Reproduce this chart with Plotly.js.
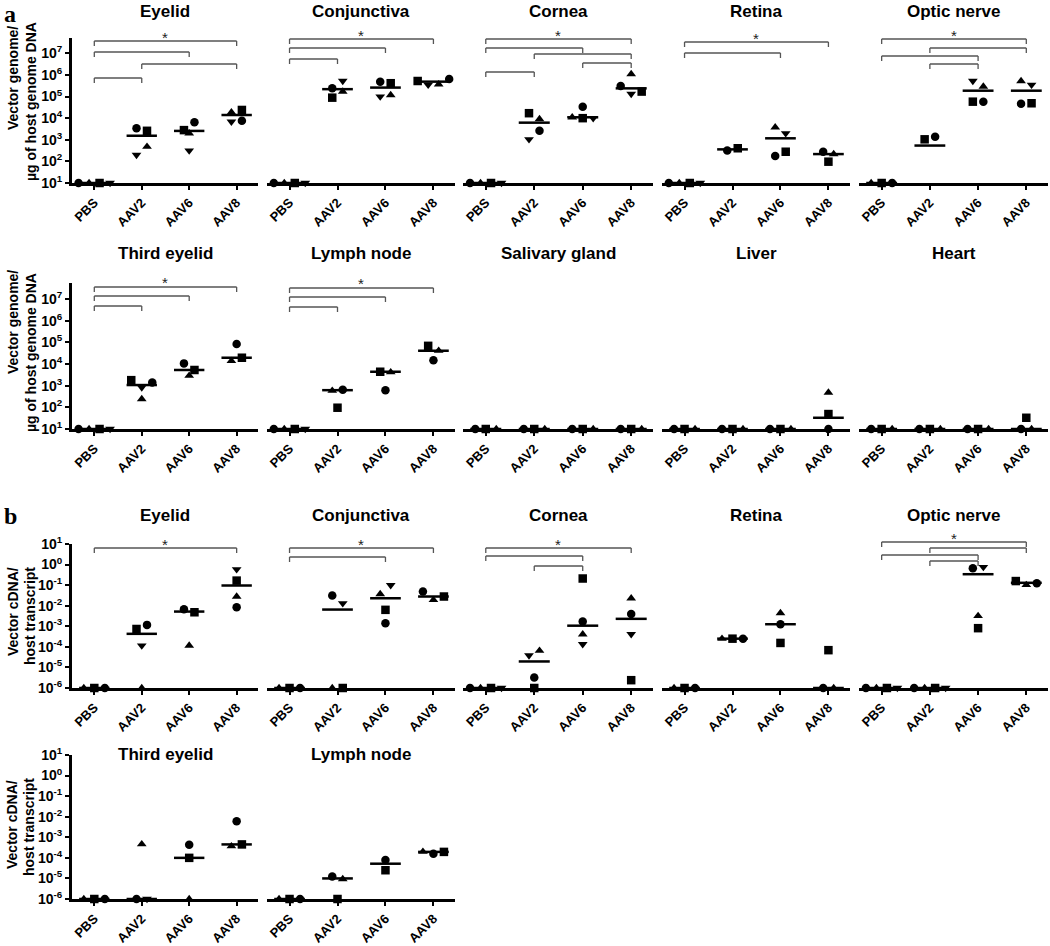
<!DOCTYPE html>
<html>
<head>
<meta charset="utf-8">
<script src="https://cdn.plot.ly/plotly-3.0.1.min.js"></script>
<style>html,body{margin:0;padding:0;background:#fff}#chart{width:1050px;height:946px}</style>
</head>
<body>
<div id="chart"></div>
<script>
// ---------------- DATA ----------------
const GROUPS = ['PBS', 'AAV2', 'AAV6', 'AAV8'];
// symbol codes: o circle, s square, u triangle-up, d triangle-down (one per animal)

// a) vector genome / ug host genome DNA
const A_EYELID_PTS = [
  [['o',10],['u',10],['s',10],['d',10]],
  [['o',3400],['s',2600],['d',200],['u',480]],
  [['s',2800],['u',2000],['o',6500],['d',315]],
  [['u',18600],['s',24000],['d',6900],['o',7600]]
];
const A_EYELID_MED = [10, 1540, 2570, 14000];
const A_EYELID_SIG = [[0,3],[0,2],[1,3],[0,1]];

const A_CONJ_PTS = [
  [['o',10],['u',10],['s',10],['d',10]],
  [['o',240000],['d',525000],['s',89000],['u',170000]],
  [['o',490000],['s',415000],['d',100000],['u',118000]],
  [['s',525000],['d',350000],['u',370000],['o',650000]]
];
const A_CONJ_MED = [10, 220000, 260000, 490000];
const A_CONJ_SIG = [[0,3],[0,2],[0,1]];

const A_CORNEA_PTS = [
  [['o',10],['u',10],['s',10],['d',10]],
  [['s',17000],['u',9100],['d',1050],['o',2600]],
  [['o',34000],['u',11000],['s',10000],['d',10000]],
  [['u',1100000],['o',310000],['d',132000],['s',170000]]
];
const A_CORNEA_MED = [10, 6200, 11000, 240000];
const A_CORNEA_SIG = [[0,3],[0,2],[1,3],[2,3],[0,1]];

const A_RETINA_PTS = [
  [['o',10],['u',10],['s',10],['d',10]],
  [['o',316],['s',405]],
  [['u',3800],['d',2000],['o',178],['s',280]],
  [['o',280],['u',218],['s',97]]
];
const A_RETINA_MED = [10, 360, 1170, 218];
const A_RETINA_SIG = [[0,3],[0,2]];

const A_OPTIC_PTS = [
  [['u',10],['s',10],['o',10]],
  [['s',1050],['o',1380]],
  [['d',525000],['u',290000],['s',58000],['o',58000]],
  [['u',525000],['d',350000],['o',46000],['s',49000]]
];
const A_OPTIC_MED = [10, 540, 187000, 187000];
const A_OPTIC_SIG = [[0,3],[1,3],[0,2],[1,2]];

const A_THIRD_PTS = [
  [['o',10],['u',10],['s',10],['d',10]],
  [['s',1800],['d',830],['o',1400],['u',240]],
  [['o',10700],['s',5300],['u',2900]],
  [['o',83000],['u',13800],['s',19500]]
];
const A_THIRD_MED = [10, 1070, 5300, 19500];
const A_THIRD_SIG = [[0,3],[0,2],[0,1]];

const A_LYMPH_PTS = [
  [['o',10],['u',10],['s',10],['d',10]],
  [['u',590],['o',650],['s',96]],
  [['s',4400],['u',4200],['o',610]],
  [['s',69000],['u',41000],['o',15000]]
];
const A_LYMPH_MED = [10, 620, 4400, 41000];
const A_LYMPH_SIG = [[0,3],[0,2],[0,1]];

const A_SALIVARY_PTS = [
  [['o',10],['s',10],['u',10]],
  [['o',10],['s',10],['u',10]],
  [['o',10],['s',10],['u',10]],
  [['o',10],['s',10],['u',10]]
];
const A_SALIVARY_MED = [10, 10, 10, 10];

const A_LIVER_PTS = [
  [['o',10],['s',10],['u',10]],
  [['o',10],['s',10],['u',10]],
  [['o',10],['s',10],['u',10]],
  [['o',10],['s',49],['u',480]]
];
const A_LIVER_MED = [10, 10, 10, 33];

const A_HEART_PTS = [
  [['o',10],['s',10],['u',10]],
  [['o',10],['s',10],['u',10]],
  [['o',10],['s',10],['u',10]],
  [['o',10],['s',33],['u',10]]
];
const A_HEART_MED = [10, 10, 10, 10];

// b) vector cDNA / host transcript
const B_EYELID_PTS = [
  [['u',1e-6],['s',1e-6],['o',1e-6]],
  [['s',7.4e-4],['o',1.17e-3],['d',1.15e-4],['u',1e-6]],
  [['o',6.8e-3],['s',4.8e-3],['u',1.15e-4]],
  [['d',0.59],['s',0.166],['u',0.028],['o',0.0085]]
];
const B_EYELID_MED = [1e-6, 4.3e-4, 5.2e-3, 0.096];
const B_EYELID_SIG = [[0,3]];

const B_CONJ_PTS = [
  [['u',1e-6],['s',1e-6],['o',1e-6]],
  [['o',0.031],['d',0.013],['u',1e-6],['s',1e-6]],
  [['u',0.037],['d',0.10],['s',6.3e-3],['o',1.4e-3]],
  [['o',0.049],['u',0.019],['s',0.028]]
];
const B_CONJ_MED = [1e-6, 6.5e-3, 0.023, 0.028];
const B_CONJ_SIG = [[0,3],[0,2]];

const B_CORNEA_PTS = [
  [['o',1e-6],['u',1e-6],['s',1e-6],['d',1e-6]],
  [['d',3.8e-5],['u',6.5e-5],['o',3.2e-6],['s',1e-6]],
  [['s',0.21],['o',1.7e-3],['u',4.1e-4],['d',1.35e-4]],
  [['u',0.023],['o',4.0e-3],['d',4.1e-4],['s',2.4e-6]]
];
const B_CORNEA_MED = [1e-6, 1.95e-5, 1.07e-3, 2.3e-3];
const B_CORNEA_SIG = [[0,3],[0,2],[1,2]];

const B_RETINA_PTS = [
  [['u',1e-6],['s',1e-6],['o',1e-6]],
  [['u',2.5e-4],['s',2.5e-4],['o',2.5e-4]],
  [['u',4.4e-3],['o',1.26e-3],['s',1.55e-4]],
  [['o',1e-6],['s',6.9e-5],['u',1e-6]]
];
const B_RETINA_MED = [1e-6, 2.5e-4, 1.26e-3, 1e-6];

const B_OPTIC_PTS = [
  [['o',1e-6],['u',1e-6],['s',1e-6],['d',1e-6]],
  [['o',1e-6],['u',1e-6],['s',1e-6],['d',1e-6]],
  [['o',0.66],['d',0.76],['u',3.2e-3],['s',8.1e-4]],
  [['s',0.158],['u',0.102],['o',0.123]]
];
const B_OPTIC_MED = [1e-6, 1e-6, 0.34, 0.13];
const B_OPTIC_SIG = [[0,3],[1,3],[0,2],[1,2]];

const B_THIRD_PTS = [
  [['u',1e-6],['s',1e-6],['o',1e-6]],
  [['o',1e-6],['u',4.6e-4],['d',1e-6]],
  [['o',4.3e-4],['s',1.0e-4],['u',1e-6]],
  [['o',6.0e-3],['u',3.7e-4],['s',4.5e-4]]
];
const B_THIRD_MED = [1e-6, 1e-6, 1.0e-4, 4.5e-4];

const B_LYMPH_PTS = [
  [['u',1e-6],['s',1e-6],['o',1e-6]],
  [['o',1.23e-5],['u',9.3e-6],['s',1e-6]],
  [['s',2.5e-5],['o',7.8e-5]],
  [['u',2.0e-4],['o',1.6e-4],['s',1.95e-4]]
];
const B_LYMPH_MED = [1e-6, 1.0e-5, 5.2e-5, 1.95e-4];

const A_TICK_POWERS = [1, 2, 3, 4, 5, 6, 7];
const B_TICK_POWERS = [1, 0, -1, -2, -3, -4, -5, -6];
const A_YTITLE = ['Vector genome/', 'µg of host genome DNA'];
const B_YTITLE = ['Vector cDNA/', 'host transcript'];

// ---------------- LAYOUT CONFIG ----------------
const W = 1050, H = 946;
const COLS = [[72,258],[267,455],[463,653],[662,850],[859,1048]];
const ROWS = [
  {top:38,  bottom:183, range:[1, 7.71], powers:A_TICK_POWERS, titleY:11,  ytitle:A_YTITLE, yt:[[13,78],[31,102]]},
  {top:283, bottom:429, range:[1, 7.74], powers:A_TICK_POWERS, titleY:254, ytitle:A_YTITLE, yt:[[13,322],[31,353]]},
  {top:544, bottom:688, range:[-6, 1],   powers:B_TICK_POWERS, titleY:515, ytitle:B_YTITLE, yt:[[13,612],[30,616]]},
  {top:755, bottom:899, range:[-6, 1],   powers:B_TICK_POWERS, titleY:754, ytitle:B_YTITLE, yt:[[12,825],[29,827]]}
];
const XRANGE = [-0.47, 3.45];
const SYM = {o:'circle', s:'square', u:'triangle-up', d:'triangle-down'};
const SPREAD_PX = 10.5, ROW_PX = 9.5, MED_HALF = 0.32;

const PANELS = [
  {title:'Eyelid', pts:A_EYELID_PTS, med:A_EYELID_MED, sig:A_EYELID_SIG, row:0, col:0, by:[41,52,64,78]},
  {title:'Conjunctiva', pts:A_CONJ_PTS, med:A_CONJ_MED, sig:A_CONJ_SIG, row:0, col:1, by:[39,48,59]},
  {title:'Cornea', pts:A_CORNEA_PTS, med:A_CORNEA_MED, sig:A_CORNEA_SIG, row:0, col:2, by:[39,48,54,63,72]},
  {title:'Retina', pts:A_RETINA_PTS, med:A_RETINA_MED, sig:A_RETINA_SIG, row:0, col:3, by:[42,53]},
  {title:'Optic nerve', pts:A_OPTIC_PTS, med:A_OPTIC_MED, sig:A_OPTIC_SIG, row:0, col:4, by:[39,48,56,64]},
  {title:'Third eyelid', pts:A_THIRD_PTS, med:A_THIRD_MED, sig:A_THIRD_SIG, row:1, col:0, by:[287,296,306]},
  {title:'Lymph node', pts:A_LYMPH_PTS, med:A_LYMPH_MED, sig:A_LYMPH_SIG, row:1, col:1, by:[288,297,307]},
  {title:'Salivary gland', pts:A_SALIVARY_PTS, med:A_SALIVARY_MED, sig:[], row:1, col:2, by:[]},
  {title:'Liver', pts:A_LIVER_PTS, med:A_LIVER_MED, sig:[], row:1, col:3, by:[]},
  {title:'Heart', pts:A_HEART_PTS, med:A_HEART_MED, sig:[], row:1, col:4, by:[]},
  {title:'Eyelid', pts:B_EYELID_PTS, med:B_EYELID_MED, sig:B_EYELID_SIG, row:2, col:0, by:[548]},
  {title:'Conjunctiva', pts:B_CONJ_PTS, med:B_CONJ_MED, sig:B_CONJ_SIG, row:2, col:1, by:[548,557]},
  {title:'Cornea', pts:B_CORNEA_PTS, med:B_CORNEA_MED, sig:B_CORNEA_SIG, row:2, col:2, by:[548,556,566]},
  {title:'Retina', pts:B_RETINA_PTS, med:B_RETINA_MED, sig:[], row:2, col:3, by:[]},
  {title:'Optic nerve', pts:B_OPTIC_PTS, med:B_OPTIC_MED, sig:B_OPTIC_SIG, row:2, col:4, by:[542,548,555,561]},
  {title:'Third eyelid', pts:B_THIRD_PTS, med:B_THIRD_MED, sig:[], row:3, col:0, by:[]},
  {title:'Lymph node', pts:B_LYMPH_PTS, med:B_LYMPH_MED, sig:[], row:3, col:1, by:[]}
];

const FONT = 'Liberation Sans, Arial, Helvetica, sans-serif';

// scatter-dot arrangement: points close in value share a row and are spread sideways
function swarm(group, pxPerDecade, pxPerUnit) {
  const order = group.map((p, i) => i).sort((a, b) => group[b][1] - group[a][1] || a - b);
  const rows = [];
  order.forEach(i => {
    const L = Math.log10(group[i][1]);
    const last = rows[rows.length - 1];
    if (last && (last.L0 - L) * pxPerDecade < ROW_PX) last.m.push(i);
    else rows.push({L0: L, m: [i]});
  });
  const off = new Array(group.length).fill(0);
  rows.forEach(r => {
    r.m.sort((a, b) => a - b);
    const k = r.m.length;
    r.m.forEach((idx, j) => { off[idx] = (j - (k - 1) / 2) * SPREAD_PX / pxPerUnit; });
  });
  return off;
}

const data = [], shapes = [], annotations = [];
const layout = {
  width: W, height: H, margin: {l:0, r:0, t:0, b:0},
  showlegend: false, paper_bgcolor: '#fff', plot_bgcolor: 'rgba(0,0,0,0)',
  font: {family: FONT, color: '#000'}
};

PANELS.forEach((p, k) => {
  const s = k === 0 ? '' : String(k + 1);
  const xr = 'x' + s, yr = 'y' + s;
  const R = ROWS[p.row], C = COLS[p.col];
  const hPx = R.bottom - R.top;
  const pxPerDecade = hPx / (R.range[1] - R.range[0]);
  const pxPerUnit = (C[1] - C[0]) / (XRANGE[1] - XRANGE[0]);

  layout['xaxis' + s] = {
    domain: [C[0] / W, C[1] / W], range: XRANGE, anchor: yr,
    tickvals: [0, 1, 2, 3], ticktext: GROUPS, tickangle: -45,
    ticks: 'outside', ticklen: 4, tickwidth: 2, tickcolor: '#000',
    showline: true, linewidth: 3, linecolor: '#000',
    showgrid: false, zeroline: false, fixedrange: true,
    tickfont: {family: FONT, size: 13, weight: 'bold', color: '#000'}
  };
  const ya = {
    domain: [1 - R.bottom / H, 1 - R.top / H], type: 'log', range: R.range, anchor: xr,
    showgrid: false, zeroline: false, fixedrange: true
  };
  if (p.col === 0) {
    Object.assign(ya, {
      showline: true, linewidth: 3, linecolor: '#000',
      ticks: 'outside', ticklen: 4, tickwidth: 2, tickcolor: '#000',
      tickvals: R.powers.map(e => Math.pow(10, e)),
      ticktext: R.powers.map(e => '10<sup>' + e + '</sup>'),
      tickfont: {family: FONT, size: 14, weight: 'bold', color: '#000'}
    });
  } else {
    Object.assign(ya, {showline: false, ticks: '', showticklabels: false});
  }
  layout['yaxis' + s] = ya;

  // points
  const xs = [], ys = [], syms = [];
  p.pts.forEach((g, gi) => {
    const off = swarm(g, pxPerDecade, pxPerUnit);
    g.forEach((pt, j) => { xs.push(gi + off[j]); ys.push(pt[1]); syms.push(SYM[pt[0]]); });
  });
  data.push({
    type: 'scatter', mode: 'markers', x: xs, y: ys, xaxis: xr, yaxis: yr,
    cliponaxis: false, hoverinfo: 'skip',
    marker: {symbol: syms, size: 8.5, color: '#000', line: {width: 0}}
  });
  // median lines
  const mx = [], my = [];
  p.med.forEach((m, gi) => { mx.push(gi - MED_HALF, gi + MED_HALF, null); my.push(m, m, null); });
  data.push({
    type: 'scatter', mode: 'lines', x: mx, y: my, xaxis: xr, yaxis: yr,
    cliponaxis: false, hoverinfo: 'skip', line: {color: '#000', width: 2.5}
  });

  // significance brackets
  const yd = yr + ' domain';
  const tick = 5 / hPx;
  p.sig.forEach((pair, bi) => {
    const f = (R.bottom - p.by[bi]) / hPx;
    const ln = {color: '#555', width: 1.3};
    shapes.push({type:'line', xref:xr, yref:yd, x0:pair[0], x1:pair[1], y0:f, y1:f, line:ln});
    shapes.push({type:'line', xref:xr, yref:yd, x0:pair[0], x1:pair[0], y0:f, y1:f - tick, line:ln});
    shapes.push({type:'line', xref:xr, yref:yd, x0:pair[1], x1:pair[1], y0:f, y1:f - tick, line:ln});
    if (bi === 0) {
      annotations.push({
        xref: xr, yref: yd, x: (pair[0] + pair[1]) / 2, y: f + 4 / hPx,
        xanchor: 'center', yanchor: 'middle', showarrow: false, text: '*',
        font: {family: FONT, size: 15, color: '#222'}
      });
    }
  });

  // panel title
  annotations.push({
    xref: 'paper', yref: 'paper', x: (C[0] + C[1]) / 2 / W, y: 1 - R.titleY / H,
    xanchor: 'center', yanchor: 'middle', showarrow: false, text: p.title,
    font: {family: FONT, size: 17, weight: 'bold', color: '#000'}
  });
});

// y-axis titles
ROWS.forEach(R => {
  R.ytitle.forEach((t, i) => {
    annotations.push({
      xref: 'paper', yref: 'paper', x: R.yt[i][0] / W, y: 1 - R.yt[i][1] / H,
      xanchor: 'center', yanchor: 'middle', showarrow: false, textangle: -90, text: t,
      font: {family: FONT, size: 14, weight: 'bold', color: '#000'}
    });
  });
});

// panel letters
[['a', 10, 14], ['b', 10, 516]].forEach(L => {
  annotations.push({
    xref: 'paper', yref: 'paper', x: L[1] / W, y: 1 - L[2] / H,
    xanchor: 'center', yanchor: 'middle', showarrow: false, text: L[0],
    font: {family: 'Liberation Serif, Times New Roman, serif', size: 24, weight: 'bold', color: '#000'}
  });
});

layout.shapes = shapes;
layout.annotations = annotations;

Plotly.newPlot('chart', data, layout, {displayModeBar: false, staticPlot: true});
</script>
</body>
</html>
